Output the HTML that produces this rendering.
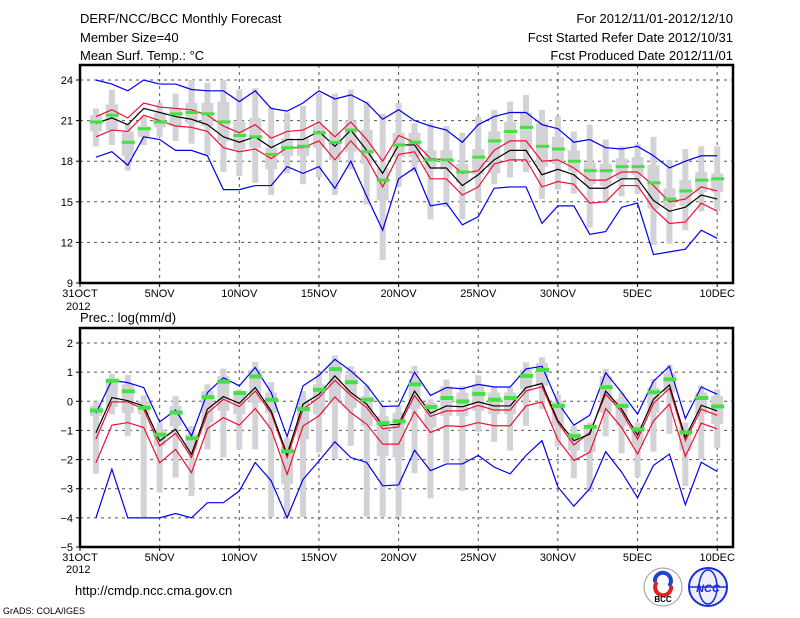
<!DOCTYPE html>
<html><head><meta charset="utf-8"><style>
body{margin:0;background:#fff;width:800px;height:618px;overflow:hidden}
svg{display:block}
text{font-family:"Liberation Sans",sans-serif;fill:#000}
</style></head><body>
<svg id="chart" width="800" height="618" xmlns="http://www.w3.org/2000/svg">
<text x="80" y="23" font-size="13">DERF/NCC/BCC Monthly Forecast</text>
<text x="80" y="42" font-size="13">Member Size=40</text>
<text x="80" y="60" font-size="13">Mean Surf. Temp.: °C</text>
<text x="733" y="23" font-size="13" text-anchor="end">For 2012/11/01-2012/12/10</text>
<text x="733" y="42" font-size="13" text-anchor="end">Fcst Started Refer Date 2012/10/31</text>
<text x="733" y="60" font-size="13" text-anchor="end">Fcst Produced Date 2012/11/01</text>
<text x="80" y="322" font-size="13">Prec.: log(mm/d)</text>
<text x="66" y="310" font-size="11">2012</text>
<text x="66" y="573" font-size="11">2012</text>
<text x="75" y="595" font-size="13">http://cmdp.ncc.cma.gov.cn</text>
<text x="3" y="614" font-size="9">GrADS: COLA/IGES</text>
<g>
<circle cx="663" cy="587" r="19" fill="#fff" stroke="#999" stroke-width="1"/>
<path d="M655 582 a8 8 0 1 1 14 4" fill="none" stroke="#2244cc" stroke-width="4"/>
<path d="M671 586 a8 8 0 1 1 -14 -4" fill="none" stroke="#dd2222" stroke-width="4"/>
<text x="663" y="602" font-size="8" text-anchor="middle" font-weight="bold">BCC</text>
</g>
<g>
<circle cx="708" cy="587" r="19" fill="#eef" stroke="#1a2bd8" stroke-width="2"/>
<ellipse cx="708" cy="587" rx="9" ry="17" fill="none" stroke="#1a2bd8" stroke-width="1.5"/>
<line x1="690" y1="587" x2="726" y2="587" stroke="#1a2bd8" stroke-width="1.5"/>
<text x="708" y="592" font-size="11" text-anchor="middle" font-style="italic" font-weight="bold" style="fill:#1a2bd8">NCC</text>
</g>
</svg>
<script>
// x categories (days after 31OCT)
const days = [1,2,3,4,5,6,7,8,9,10,11,12,13,14,15,16,17,18,19,20,21,22,23,24,25,26,27,28,29,30,31,32,33,34,35,36,37,38,39,40];
const xTickLabels = ["31OCT","5NOV","10NOV","15NOV","20NOV","25NOV","30NOV","5DEC","10DEC"];
const xTickDays = [0,5,10,15,20,25,30,35,40];
// temperature panel
const tTicks = [9,12,15,18,21,24];
const tBlueMax = [24.0,23.7,23.2,24.0,23.7,23.7,23.3,23.2,23.2,22.4,23.2,21.9,21.7,22.3,23.2,22.6,22.9,22.3,21.1,21.8,21.0,20.6,20.3,19.4,20.7,21.3,21.6,21.6,20.7,20.4,19.4,19.6,19.0,18.9,19.1,18.4,17.5,18.0,18.4,18.4];
const tRedHi = [21.3,21.8,21.2,22.3,22.0,21.9,21.8,21.4,20.6,20.1,20.7,19.7,20.2,20.3,20.9,19.8,20.9,19.6,18.0,19.9,19.4,18.2,18.1,17.1,17.3,18.8,19.5,19.5,18.0,18.1,17.5,16.6,16.6,17.2,17.2,16.2,15.0,15.2,16.1,15.8];
const tMean = [20.8,21.2,20.7,21.9,21.6,21.3,21.1,20.7,19.8,19.4,19.8,19.0,19.6,19.6,20.2,19.1,20.3,18.8,17.1,19.2,19.2,17.5,17.5,16.2,17.0,18.1,18.8,18.8,17.0,17.4,17.0,16.0,16.0,16.7,16.7,15.1,14.3,14.6,15.5,15.2];
const tRedLo = [19.8,20.3,20.2,21.4,21.0,20.6,20.5,20.2,19.0,18.7,18.9,18.2,19.0,19.0,19.5,18.1,19.5,18.2,16.1,18.5,18.7,16.7,16.7,15.5,16.1,17.8,18.1,18.1,16.1,16.5,16.3,14.9,15.0,16.2,16.2,14.5,13.4,13.5,14.9,14.3];
const tBlueMin = [18.3,18.7,17.7,19.8,19.6,18.8,18.8,18.4,15.9,15.9,16.2,16.2,17.6,17.1,17.6,16.0,18.0,15.4,12.9,16.7,17.5,14.7,14.9,13.3,13.9,16.0,16.1,16.1,13.4,14.7,14.7,12.6,12.8,14.6,14.9,11.1,11.3,11.5,12.9,12.3];
const tObs = [20.9,21.4,19.4,20.4,20.9,21.5,21.6,21.5,20.9,19.9,19.8,18.5,19.0,19.1,20.1,19.4,20.3,18.7,16.6,19.2,19.4,18.1,18.1,17.2,18.3,19.5,20.2,20.5,19.1,18.9,18.0,17.3,17.3,17.6,17.6,16.4,15.2,15.8,16.6,16.7];
const tWhiskHi = [21.9,23.3,20.8,21.3,22.3,23.0,24.0,23.8,24.0,23.3,23.4,22.0,21.6,22.1,23.0,23.0,23.3,22.4,21.5,22.3,20.8,20.8,20.6,20.1,21.3,21.8,22.4,22.9,21.8,21.3,20.2,20.7,19.6,19.1,19.3,19.8,18.1,18.9,19.1,19.1];
const tWhiskLo = [19.1,19.2,17.3,19.2,19.8,19.5,19.3,18.4,17.2,16.9,16.4,15.5,17.1,16.3,16.8,15.5,17.4,14.8,10.7,16.1,17.2,13.7,14.6,13.7,15.1,16.3,16.8,17.2,15.2,15.9,15.6,13.1,14.9,15.4,15.6,11.8,11.9,12.9,14.3,14.3];
const tBoxHi = [21.4,22.2,20.2,20.6,21.6,21.9,22.3,22.3,22.4,20.9,21.2,19.0,19.7,19.7,20.6,20.1,21.0,20.3,17.5,20.1,20.1,18.8,18.8,17.8,18.9,20.2,20.9,21.6,20.8,19.8,18.8,17.9,17.8,18.2,18.3,17.7,16.0,16.6,17.2,17.1];
const tBoxLo = [20.2,20.3,18.4,19.8,20.5,20.6,20.8,20.6,19.5,18.9,19.0,17.4,18.4,18.4,19.0,18.1,18.7,17.8,15.1,18.3,18.3,17.4,17.4,16.4,17.0,17.1,18.1,18.9,17.6,17.8,17.3,16.3,16.2,16.7,17.0,14.5,14.6,14.7,15.7,15.7];
// precipitation panel
const pTicks = [-5,-4,-3,-2,-1,0,1,2];
const pBlueMax = [-0.41,0.72,0.64,0.47,-0.71,-0.3,-1.19,0.3,0.81,0.53,1.16,0.3,-1.21,0.53,0.89,1.44,1.04,0.55,-0.18,-0.16,1.0,0.2,0.47,0.43,0.58,0.49,0.49,1.11,1.2,-0.05,-0.82,-0.48,0.98,0.3,-0.44,0.69,1.2,-0.59,0.49,0.24];
const pMean = [-1.08,0.13,0.02,-0.16,-1.36,-0.96,-1.82,-0.27,0.16,-0.07,0.47,-0.33,-1.82,-0.1,0.24,0.87,0.3,-0.1,-0.82,-0.79,0.35,-0.41,-0.16,-0.19,-0.02,-0.16,-0.16,0.47,0.61,-0.67,-1.35,-1.13,0.35,-0.27,-1.16,0.07,0.56,-1.24,-0.14,-0.33];
const pRedHi = [-1.3,-0.02,-0.02,-0.27,-1.53,-1.1,-1.93,-0.41,0.07,-0.18,0.35,-0.41,-1.93,-0.27,0.13,0.72,0.2,-0.22,-0.94,-0.88,0.2,-0.52,-0.33,-0.33,-0.14,-0.3,-0.3,0.35,0.5,-0.73,-1.5,-1.07,0.24,-0.36,-1.3,-0.07,0.44,-1.35,-0.27,-0.48];
const pRedLo = [-2.11,-0.82,-0.73,-0.9,-2.11,-1.65,-2.45,-0.94,-0.56,-0.82,-0.25,-0.96,-2.51,-0.85,-0.5,0.15,-0.39,-0.79,-1.47,-1.47,-0.36,-1.07,-0.84,-0.87,-0.73,-0.84,-0.84,-0.16,-0.02,-1.32,-2.03,-1.75,-0.25,-0.9,-1.81,-0.67,-0.1,-1.89,-0.75,-0.95];
const pBlueMin = [-4.0,-2.33,-4.0,-4.0,-4.0,-3.85,-4.0,-3.48,-3.48,-3.08,-2.1,-2.73,-4.0,-2.68,-2.05,-1.39,-1.93,-2.1,-2.9,-2.87,-1.68,-2.38,-2.15,-2.15,-1.86,-2.26,-2.49,-1.86,-1.35,-2.94,-3.6,-3.0,-1.73,-2.43,-3.31,-2.2,-1.81,-3.55,-2.09,-2.41];
const pObs = [-0.3,0.72,0.36,-0.2,-1.13,-0.37,-1.25,0.16,0.69,0.3,0.87,0.07,-1.7,-0.25,0.41,1.12,0.67,0.07,-0.73,-0.67,0.6,-0.18,0.13,0.01,0.27,0.07,0.13,0.89,1.09,-0.14,-1.18,-0.86,0.5,-0.14,-0.95,0.33,0.77,-1.05,0.13,-0.16];
const pWhiskHi = [0.0,0.93,0.9,0.2,-0.73,0.18,-0.85,0.58,1.12,0.41,1.35,0.66,-1.25,0.35,0.98,1.57,1.21,0.55,-0.14,-0.14,1.21,0.07,0.75,0.52,0.89,0.47,0.47,1.34,1.51,0.24,-0.84,-0.73,1.11,0.3,-0.73,0.77,1.26,-0.73,0.55,0.41];
const pWhiskLo = [-2.48,-0.45,-1.2,-3.97,-3.13,-2.62,-3.25,-1.65,-1.93,-1.65,-1.65,-3.97,-3.97,-3.97,-1.76,-1.98,-1.53,-3.96,-3.96,-3.96,-2.47,-3.33,-2.1,-3.07,-1.05,-1.39,-1.69,-0.84,-0.27,-1.55,-2.64,-3.11,-1.2,-1.78,-2.6,-1.73,-1.12,-2.91,-1.98,-1.61];
const pBoxHi = [-0.15,0.75,0.58,0.0,-0.96,-0.16,-1.13,0.35,0.87,0.24,1.1,0.3,-1.53,0.07,0.58,1.32,0.92,0.18,-0.5,-0.39,0.75,-0.05,0.52,0.3,0.58,0.3,0.3,1.09,1.32,0.0,-1.07,-0.84,0.86,0.07,-0.84,0.47,0.98,-0.9,0.3,0.18];
const pBoxLo = [-0.5,-0.2,-0.4,-0.45,-1.53,-0.85,-1.65,-0.73,-0.33,-0.45,-0.05,-0.4,-2.85,-1.3,-0.45,-0.05,-0.22,-0.84,-1.87,-1.93,-0.27,-0.9,-0.5,-0.5,-0.33,-0.44,-0.44,0.41,0.52,-0.84,-1.69,-1.75,-0.39,-0.84,-1.52,-0.39,0.3,-1.69,-0.44,-0.78];

const NS='http://www.w3.org/2000/svg';
const svg=document.getElementById('chart');
const X0=80, X1=733;
function xs(d){return X0+d*15.93;}
function mk(tag,attrs,parent){const e=document.createElementNS(NS,tag);for(const k in attrs)e.setAttribute(k,attrs[k]);(parent||svg).appendChild(e);return e;}

function panel(name,top,bottom,vmin,vmax,ticks,s){
  const ys=v=>bottom-(v-vmin)/(vmax-vmin)*(bottom-top-15)-0;
  // ys maps vmin->bottom, vmax->top+15
  const g=mk('g',{});
  
  
  // gridlines
  ticks.forEach(t=>{ if(t===vmin) return;
    const l=mk('line',{x1:X0,x2:X1,y1:ys(t),y2:ys(t),stroke:'#555','stroke-dasharray':'3,4','stroke-width':1},g);
    
    
  });
  xTickDays.forEach(d=>{ if(d===0) return;
    const l=mk('line',{x1:xs(d),x2:xs(d),y1:top,y2:bottom,stroke:'#555','stroke-dasharray':'3,4','stroke-width':1},g);
    
    
  });
  // gray boxes
  days.forEach((d,i)=>{
    const x=xs(d);
    const w=mk('rect',{x:x-3,width:6,y:ys(s.wh[i]),height:ys(s.wl[i])-ys(s.wh[i]),fill:'#d3d3d7'},g);
    
    
    const b=mk('rect',{x:x-6,width:12,y:ys(s.bh[i]),height:ys(s.bl[i])-ys(s.bh[i]),fill:'#d3d3d7'},g);
    
    
  });
  const line=(arr,col,nm)=>{
    const p=mk('polyline',{points:days.map((d,i)=>xs(d)+','+ys(arr[i])).join(' '),fill:'none',stroke:col,'stroke-width':1.2},g);
    
    
  };
  line(s.bmax,'#0000ee','ensemble-max-line');
  line(s.bmin,'#0000ee','ensemble-min-line');
  line(s.rhi,'#ee1133','upper-spread-line');
  line(s.rlo,'#ee1133','lower-spread-line');
  line(s.mean,'#000','ensemble-mean-line');
  days.forEach((d,i)=>{
    const r=mk('rect',{x:xs(d)-6,width:13,y:ys(s.obs[i])-1.5,height:s.gh,fill:'#44e044'},g);
    
    
  });
  // frame
  const f=mk('rect',{x:X0,y:top,width:X1-X0,height:bottom-top,fill:'none',stroke:'#000','stroke-width':2.5},g);
  
  
  ticks.forEach(t=>{
    const tl=mk('line',{x1:X0-4,x2:X0,y1:ys(t),y2:ys(t),stroke:'#000'},g);
    
    
    const tx=mk('text',{x:X0-7,y:ys(t)+4,'font-size':11,'text-anchor':'end'},g);
    tx.textContent=String(t).replace('-','\u2212');
    
    
  });
  xTickDays.forEach((d,i)=>{
    const tl=mk('line',{x1:xs(d),x2:xs(d),y1:bottom,y2:bottom+4,stroke:'#000'},g);
    
    
    const tx=mk('text',{x:xs(d),y:bottom+14,'font-size':11,'text-anchor':'middle'},g);
    tx.textContent=xTickLabels[i];
    
    
  });
}
panel('temperature-panel',65,283,9,24,tTicks,{bmax:tBlueMax,bmin:tBlueMin,rhi:tRedHi,rlo:tRedLo,mean:tMean,obs:tObs,wh:tWhiskHi,wl:tWhiskLo,bh:tBoxHi,bl:tBoxLo,gh:3});
panel('precipitation-panel',328,547,-5,2,pTicks,{bmax:pBlueMax,bmin:pBlueMin,rhi:pRedHi,rlo:pRedLo,mean:pMean,obs:pObs,wh:pWhiskHi,wl:pWhiskLo,bh:pBoxHi,bl:pBoxLo,gh:4});
</script>
</body></html>
